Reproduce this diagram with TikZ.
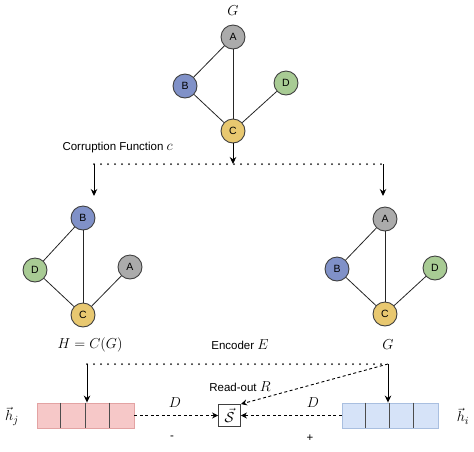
\documentclass[tikz,border=0pt]{standalone}
\usepackage{fontspec}
\setmainfont{Liberation Sans}
\usepackage{amsmath,amssymb}
\usetikzlibrary{arrows.meta}
\definecolor{gA}{HTML}{ABABAB}
\definecolor{gB}{HTML}{8091C8}
\definecolor{gD}{HTML}{A8CB94}
\definecolor{gC}{HTML}{E8C870}
\definecolor{redF}{HTML}{F6C8C8}
\definecolor{redD}{HTML}{E3A3A3}
\definecolor{bluF}{HTML}{D6E3F8}
\definecolor{bluD}{HTML}{A9BFE0}
\newcommand{\mfs}{\fontsize{15}{17}\selectfont}
\begin{document}
\begin{tikzpicture}[x=1pt,y=-1pt,
  vtx/.style={circle,draw=black!75,line width=0.9pt,minimum size=24pt,inner sep=0pt,font=\fontsize{10.5}{12}\selectfont},
  edge/.style={draw=black!85,line width=0.8pt},
  arr/.style={line width=1pt,-{Stealth[length=7pt,width=6.5pt]}},
  dotl/.style={line width=2pt,line cap=round,dash pattern=on 0pt off 7pt,draw=black!90},
  dsh/.style={line width=0.9pt,dash pattern=on 3pt off 2.5pt,-{Stealth[length=6pt,width=6pt]}},
  lbl/.style={font=\fontsize{11.5}{13}\selectfont},
  mlbl/.style={font=\mfs},
  arrR/.style={draw=redD,fill=redF,line width=0.9pt,minimum width=97pt,minimum height=25pt,inner sep=0pt},
  arrB/.style={draw=bluD,fill=bluF,line width=0.9pt,minimum width=96pt,minimum height=25pt,inner sep=0pt},
  divider/.style={draw=black!70,line width=0.9pt}
]
\useasboundingbox (0,0) rectangle (474,451);
% top graph
\node[mlbl] (Gtop) at (233,11) {$G$};
\node[vtx,fill=gA] (tA) at (233,37) {A};
\node[vtx,fill=gB] (tB) at (185,86) {B};
\node[vtx,fill=gD] (tD) at (286,83) {D};
\node[vtx,fill=gC] (tC) at (233,131) {C};
\draw[edge] (tA) -- (tB);
\draw[edge] (tA) -- (tC);
\draw[edge] (tB) -- (tC);
\draw[edge] (tC) -- (tD);
% corruption
\node[lbl,anchor=west] (corr) at (59,148) {Corruption Function {\mfs$c$}};
\coordinate (split) at (233,164);
\coordinate (sL) at (94,164);
\coordinate (sR) at (383,164);
\draw[arr] (tC) -- (split);
\draw[dotl] (sL) -- (sR);
\coordinate (eL) at (94,196);
\coordinate (eR) at (383,196);
\draw[arr] (sL) -- (eL);
\draw[arr] (sR) -- (eR);
% left graph
\node[vtx,fill=gB] (lB) at (83,218) {B};
\node[vtx,fill=gD] (lD) at (35,270) {D};
\node[vtx,fill=gA] (lA) at (130,267) {A};
\node[vtx,fill=gC] (lC) at (83,315) {C};
\draw[edge] (lB) -- (lD);
\draw[edge] (lB) -- (lC);
\draw[edge] (lD) -- (lC);
\draw[edge] (lC) -- (lA);
\node[mlbl] (Hlbl) at (90,345) {$H = C(G)$};
% right graph
\node[vtx,fill=gA] (rA) at (385,219) {A};
\node[vtx,fill=gB] (rB) at (337,269) {B};
\node[vtx,fill=gD] (rD) at (435,268) {D};
\node[vtx,fill=gC] (rC) at (385,314) {C};
\draw[edge] (rA) -- (rB);
\draw[edge] (rA) -- (rC);
\draw[edge] (rB) -- (rC);
\draw[edge] (rC) -- (rD);
\node[mlbl] (Grlbl) at (388,345) {$G$};
% encoder
\node[lbl] (enc) at (240,345) {Encoder {\mfs$E$}};
\coordinate (qL) at (87,364);
\coordinate (qR) at (388,364);
\draw[dotl] (qL) -- (qR);
% arrays
\node[arrR] (red) at (85.5,415.5) {};
\node[arrB] (blue) at (390,415.5) {};
\foreach \k in {1,2,3}{
  \draw[divider] ([xshift=\k*24.25pt]red.north west) -- ([xshift=\k*24.25pt]red.south west);
  \draw[divider] ([xshift=\k*24pt]blue.north west) -- ([xshift=\k*24pt]blue.south west);
}
\draw[arr] (qL) -- (qL |- red.north);
\draw[arr] (qR) -- (qR |- blue.north);
% S box
\node[draw=black!75,line width=0.9pt,minimum size=22pt,inner sep=0pt,font=\mfs] (S) at (229.5,415.5) {$\vec{\mathcal{S}}$};
\node[lbl] (ro) at (240,387) {Read-out {\mfs$R$}};
\draw[dsh] (qR) -- (S.north east);
\draw[dsh] (red.east) -- (S.west);
\draw[dsh] (blue.west) -- (S.east);
\node[mlbl] (D1) at (175,403) {$D$};
\node[mlbl] (D2) at (313,403) {$D$};
\node[lbl] (minus) at (172,438) {-};
\node[lbl] (plus) at (310,438) {+};
\node[mlbl] (hj) at (12,416) {$\vec{h}_j$};
\node[mlbl] (hi) at (463,416) {$\vec{h}_i$};
\end{tikzpicture}
\end{document}
